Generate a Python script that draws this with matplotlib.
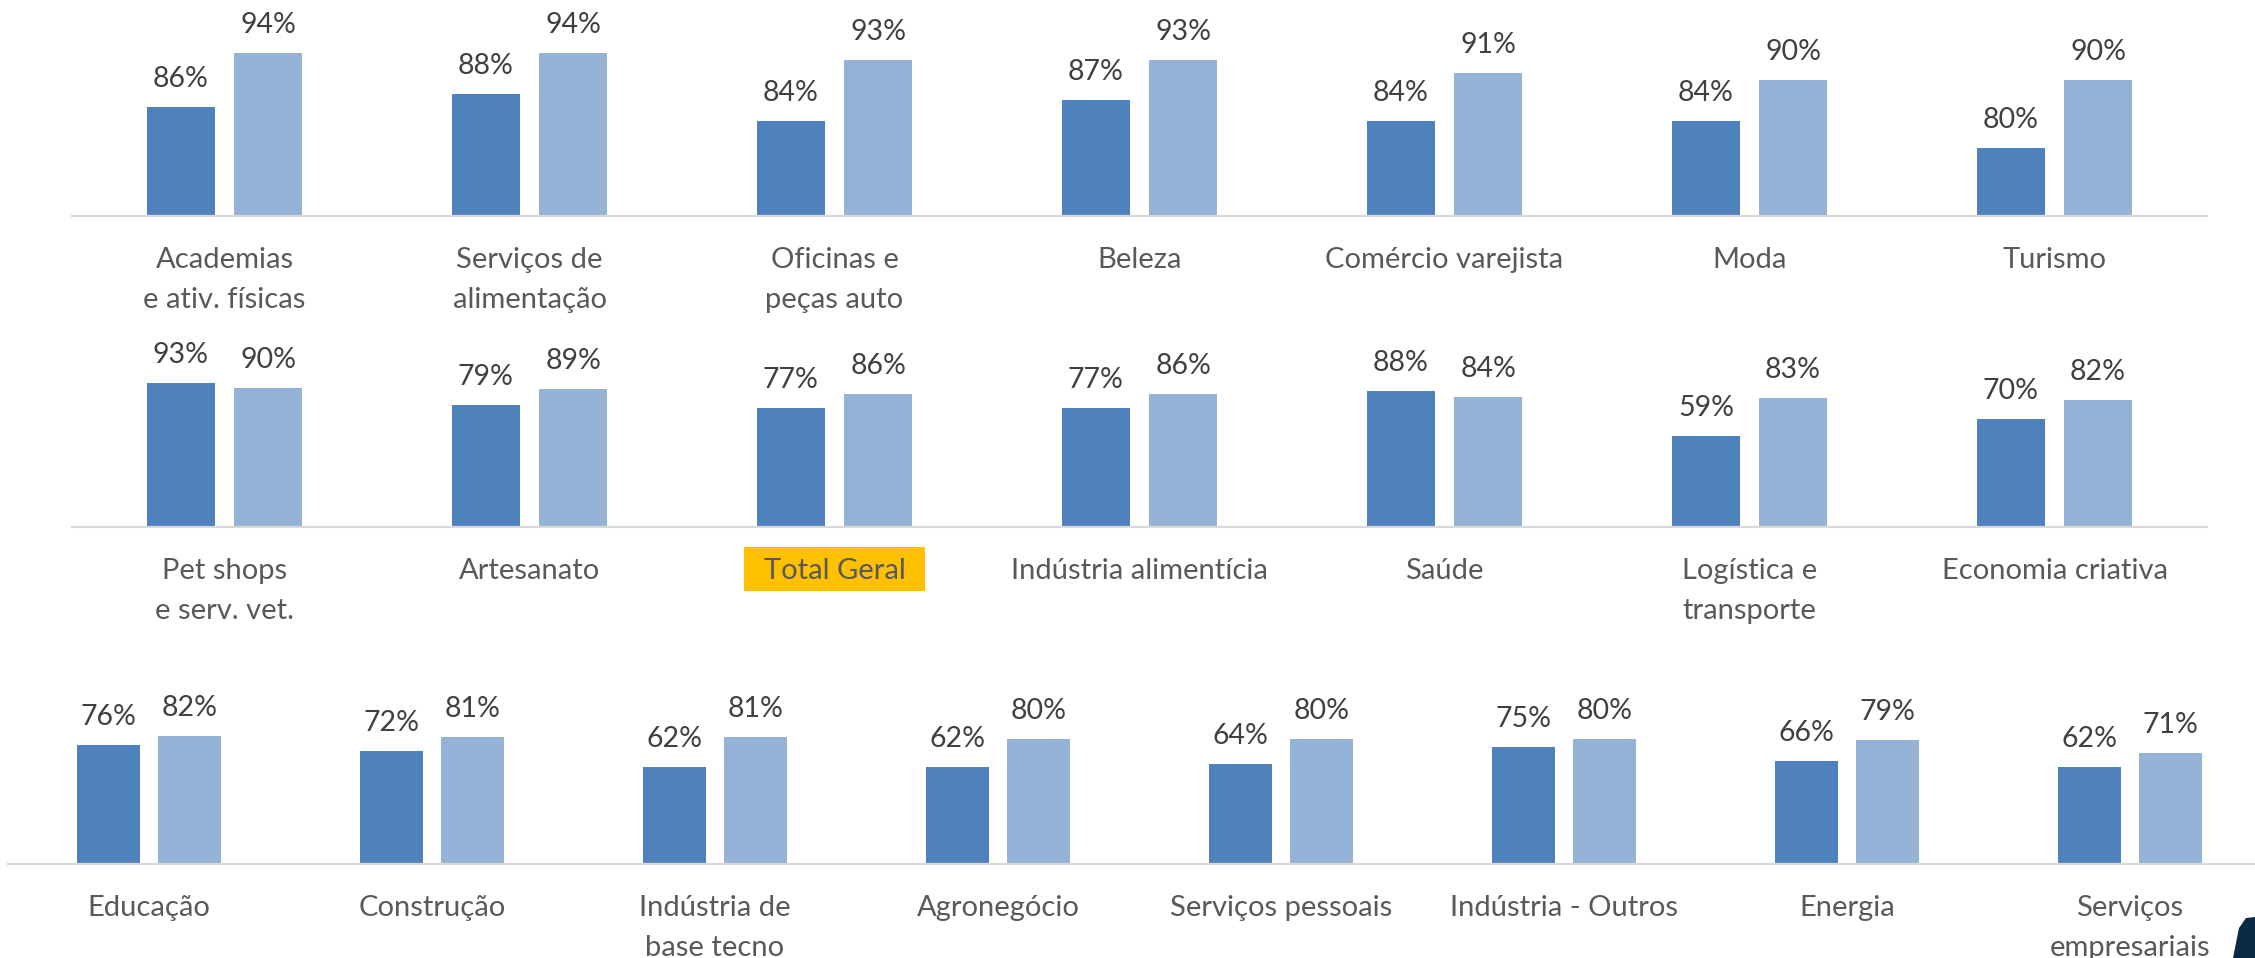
import numpy as np
import matplotlib
matplotlib.use("Agg")
import matplotlib.pyplot as plt
from matplotlib.patches import Rectangle, Polygon

plt.rcParams['font.family'] = ['Lato', 'DejaVu Sans']

# data
row1_cats = ["Academias\ne ativ. físicas", "Serviços de\nalimentação", "Oficinas e\npeças auto",
             "Beleza", "Comércio varejista", "Moda", "Turismo"]
row1_a = [86, 88, 84, 87, 84, 84, 80]
row1_b = [94, 94, 93, 93, 91, 90, 90]

row2_cats = ["Pet shops\ne serv. vet.", "Artesanato", "Total Geral", "Indústria alimentícia",
             "Saúde", "Logística e\ntransporte", "Economia criativa"]
row2_a = [93, 79, 77, 77, 88, 59, 70]
row2_b = [90, 89, 86, 86, 84, 83, 82]

row3_cats = ["Educação", "Construção", "Indústria de\nbase tecno", "Agronegócio",
             "Serviços pessoais", "Indústria - Outros", "Energia", "Serviços\nempresariais"]
row3_a = [76, 72, 62, 62, 64, 75, 66, 62]
row3_b = [82, 81, 81, 80, 80, 80, 79, 71]

DARK = '#4F81BD'
LIGHT = '#95B3D7'
VAL_COLOR = '#404040'
CAT_COLOR = '#595959'

W, H = 2255, 958
fig = plt.figure(figsize=(W / 100, H / 100), dpi=100)


def px_rect(left, right, top, bottom):
    # pixel box (from top-left) -> figure fraction rect
    return [left / W, (H - bottom) / H, (right - left) / W, (bottom - top) / H]


def draw_row(rect, cats, a, b, ylim):
    ax = fig.add_axes(rect)
    x = np.arange(len(cats))
    off, bw = 0.143, 0.223
    ax.bar(x - off, a, width=bw, color=DARK, zorder=2)
    ax.bar(x + off, b, width=bw, color=LIGHT, zorder=2)
    for xs, vals in ((x - off, a), (x + off, b)):
        for xi, v in zip(xs, vals):
            ax.annotate(f"{v}%", (xi, v), xytext=(0, 20), textcoords='offset pixels',
                        ha='center', va='baseline', fontsize=20.5, color=VAL_COLOR)
    ax.set_xlim(-0.5, len(cats) - 0.5)
    ax.set_ylim(*ylim)
    ax.set_xticks(x, cats)
    ax.tick_params(axis='x', length=0, pad=22.5, labelsize=21, labelcolor=CAT_COLOR)
    for lbl in ax.get_xticklabels():
        lbl.set_linespacing(1.66)
    ax.set_yticks([])
    for s in ['top', 'right', 'left']:
        ax.spines[s].set_visible(False)
    ax.spines['bottom'].set_color('#D9D9D9')
    ax.spines['bottom'].set_linewidth(1.6)
    ax.set_facecolor('none')
    return ax


ax1 = draw_row(px_rect(72, 2207, 10, 216), row1_cats, row1_a, row1_b, (70, 100.3))
ax2 = draw_row(px_rect(72, 2207, 370, 527), row2_cats, row2_a, row2_b, (0, 101.3))
ax3 = draw_row(px_rect(7.5, 2271.5, 707, 864), row3_cats, row3_a, row3_b, (0, 100.3))

# gold box behind "Total Geral"
i_total = row2_cats.index("Total Geral")
ax2.add_patch(Rectangle((i_total - 0.298, -41.3), 0.596, 28.4, facecolor='#FFC000',
                        edgecolor='none', clip_on=False, zorder=0.5))

# corner of the logo at the bottom right
pts = [(2233, 958), (2239, 928), (2246, 918), (2255, 917), (2255, 958)]
fig.add_artist(Polygon([(px / W, (H - py) / H) for px, py in pts], closed=True,
                       facecolor='#0B2A45', edgecolor='none'))

fig.savefig("out.png", dpi=100)
